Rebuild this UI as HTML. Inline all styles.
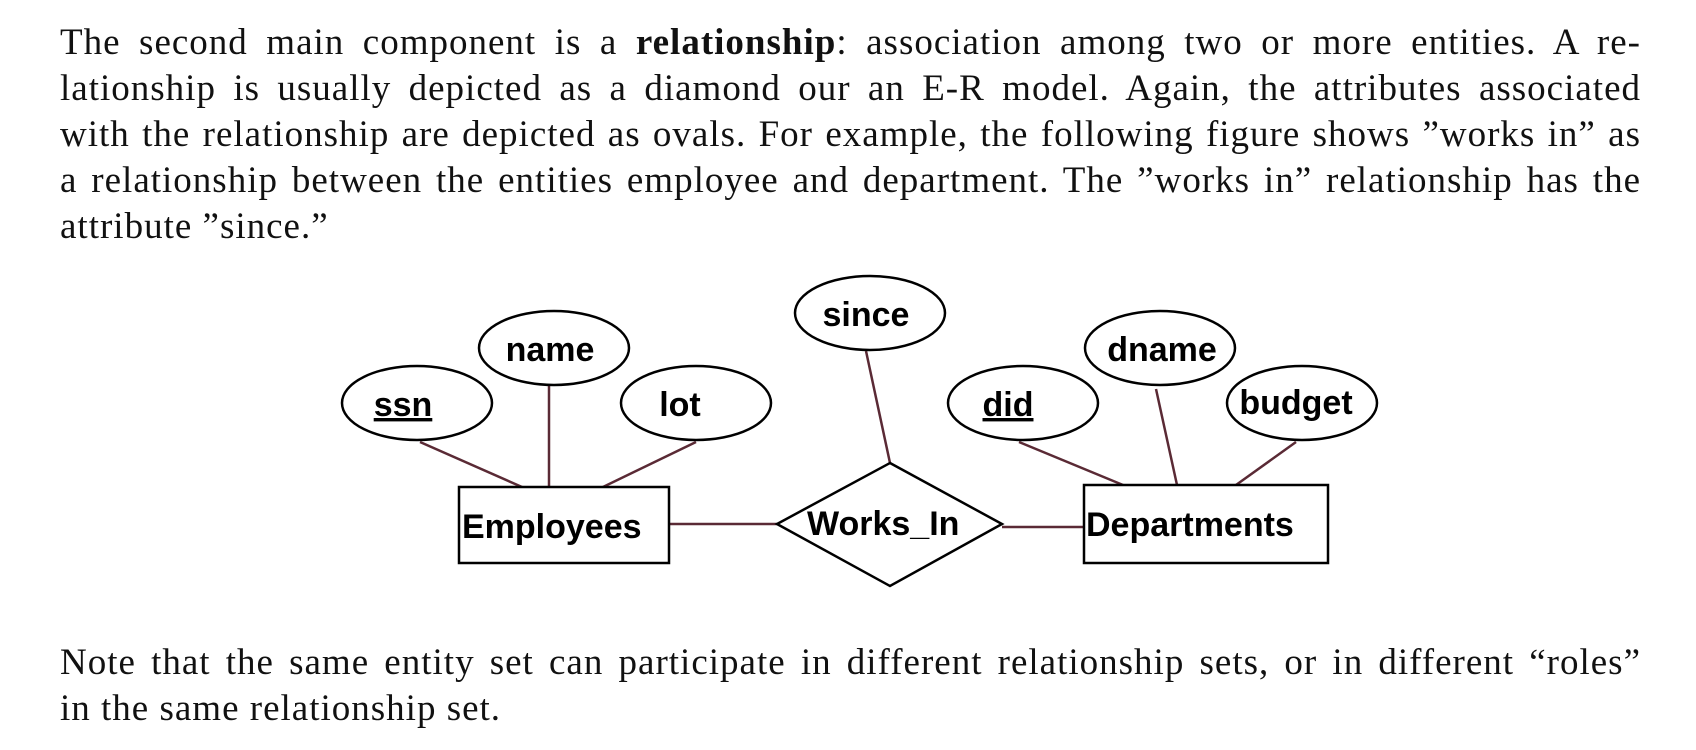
<!DOCTYPE html>
<html><head><meta charset="utf-8">
<style>
html,body{margin:0;padding:0;background:#fff;width:1696px;height:750px;overflow:hidden;position:relative}
.p{position:absolute;left:60px;width:1581px;font-family:"Liberation Serif",serif;font-size:37px;letter-spacing:1px;color:#111}
.l{height:46px;line-height:46px;white-space:nowrap;text-align:justify;text-align-last:justify}
.l.last{text-align-last:left}
svg{position:absolute;left:0;top:0}
text{font-family:"Liberation Sans",sans-serif;font-weight:bold;font-size:34px;fill:#000}
</style></head><body>
<div class="p" style="top:20px">
<div class="l">The second main component is a <b>relationship</b>: association among two or more entities. A re-</div>
<div class="l">lationship is usually depicted as a diamond our an E-R model. Again, the attributes associated</div>
<div class="l">with the relationship are depicted as ovals. For example, the following figure shows ”works in” as</div>
<div class="l">a relationship between the entities employee and department. The ”works in” relationship has the</div>
<div class="l last">attribute ”since.”</div>
</div>
<svg width="1696" height="750">
<g stroke="#5a2a35" stroke-width="2.5">
<line x1="420" y1="442" x2="522" y2="487"/>
<line x1="549" y1="385" x2="549" y2="487"/>
<line x1="696" y1="442" x2="603" y2="487"/>
<line x1="866" y1="351" x2="890" y2="463"/>
<line x1="1019" y1="442" x2="1123" y2="485"/>
<line x1="1156" y1="389" x2="1177" y2="485"/>
<line x1="1296" y1="442" x2="1236" y2="485"/>
<line x1="669" y1="524" x2="777" y2="524"/>
<line x1="1002" y1="527" x2="1084" y2="527"/>
</g>
<g fill="#fff" stroke="#000" stroke-width="2.5">
<ellipse cx="870" cy="313" rx="75" ry="37"/>
<ellipse cx="554" cy="348" rx="75" ry="37"/>
<ellipse cx="417" cy="403" rx="75" ry="37"/>
<ellipse cx="696" cy="403" rx="75" ry="37"/>
<ellipse cx="1023" cy="403" rx="75" ry="37"/>
<ellipse cx="1160" cy="348" rx="75" ry="37"/>
<ellipse cx="1302" cy="403" rx="75" ry="37"/>
<rect x="459" y="487" width="210" height="76"/>
<rect x="1084" y="485" width="244" height="78"/>
<polygon points="890,463 1002,524 890,586 777,524"/>
</g>
<text x="866" y="326" text-anchor="middle">since</text>
<text x="550" y="361" text-anchor="middle">name</text>
<text x="403" y="416" text-anchor="middle" text-decoration="underline">ssn</text>
<text x="680" y="416" text-anchor="middle">lot</text>
<text x="1008" y="416" text-anchor="middle" text-decoration="underline">did</text>
<text x="1162" y="361" text-anchor="middle">dname</text>
<text x="1296" y="414" text-anchor="middle">budget</text>
<text x="462" y="538">Employees</text>
<text x="807" y="535">Works_In</text>
<text x="1086" y="536">Departments</text>
</svg>
<div class="p" style="top:640px">
<div class="l">Note that the same entity set can participate in different relationship sets, or in different “roles”</div>
<div class="l last">in the same relationship set.</div>
</div>
</body></html>
